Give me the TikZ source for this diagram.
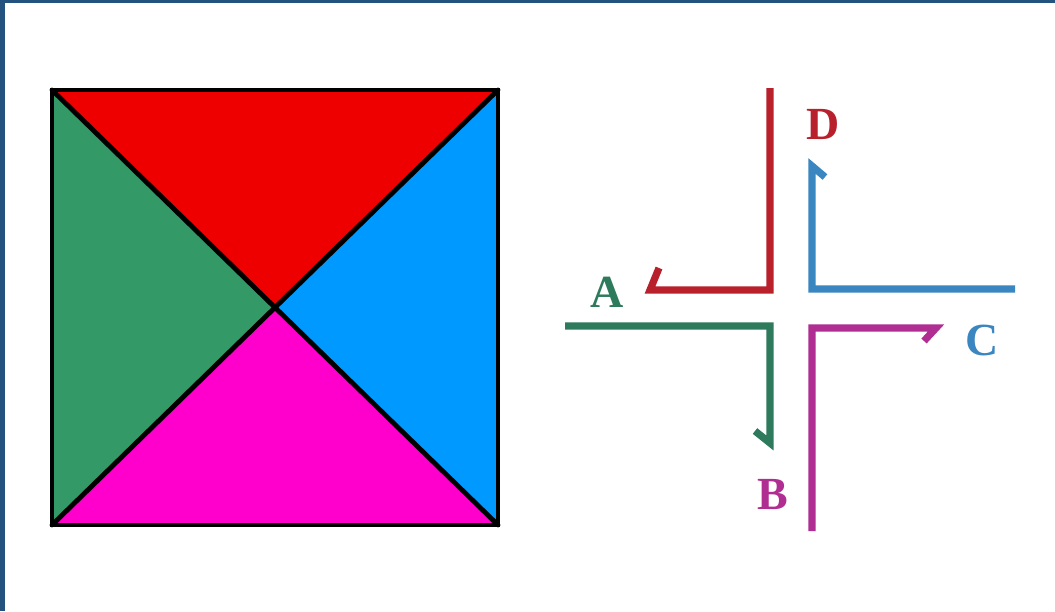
\documentclass[tikz,border=0pt]{standalone}
\usepackage{fontspec}
\setmainfont{Liberation Serif}
\usepackage{xcolor}
\usepackage{tikz}
\definecolor{frameblue}{HTML}{24527E}
\definecolor{sqred}{HTML}{EE0000}
\definecolor{sqgreen}{HTML}{339966}
\definecolor{sqblue}{HTML}{0099FF}
\definecolor{sqmagenta}{HTML}{FF00CC}
\definecolor{arrred}{HTML}{B8202C}
\definecolor{arrblue}{HTML}{3A86C0}
\definecolor{arrgreen}{HTML}{2E7A5C}
\definecolor{arrmagenta}{HTML}{B02E92}
\tikzset{
  edgeline/.style={line width=2.4pt,black,line cap=round,line join=round},
  turnarrow/.style={line width=3.6pt,line join=miter},
  letternode/.style={inner sep=0pt,font=\fontsize{23}{25}\selectfont\bfseries}
}

\begin{document}
\begin{tikzpicture}[x=0.5pt,y=-0.5pt]
  \useasboundingbox (0,0) rectangle (1055,611);
  \fill[frameblue] (0,0) rectangle (1055,611);
  \fill[white] (5,3) rectangle (1055,611);

  % the square
  \coordinate (tl) at (52,90);
  \coordinate (tr) at (498,90);
  \coordinate (bl) at (52,525);
  \coordinate (br) at (498,525);
  \coordinate (mid) at (275,307.5);
  \fill[sqred] (tl)--(tr)--(mid)--cycle;
  \fill[sqgreen] (tl)--(mid)--(bl)--cycle;
  \fill[sqblue] (tr)--(br)--(mid)--cycle;
  \fill[sqmagenta] (bl)--(mid)--(br)--cycle;
  \draw[edgeline] (tl)--(br) (tr)--(bl);
  \draw[edgeline,line join=miter] (tl) rectangle (br);

  % the four turning arrows
  \coordinate (dstart) at (770,88);
  \coordinate (dturn) at (770,290);
  \coordinate (dend) at (650,290);
  \coordinate (dhook) at (659,268);
  \draw[turnarrow,arrred] (dstart)--(dturn)--(dend)--(dhook);

  \coordinate (cstart) at (1015,289);
  \coordinate (cturn) at (812,289);
  \coordinate (cend) at (812,166);
  \coordinate (chook) at (825,177);
  \draw[turnarrow,arrblue] (cstart)--(cturn)--(cend)--(chook);

  \coordinate (astart) at (565,326);
  \coordinate (aturn) at (770,326);
  \coordinate (aend) at (770,443);
  \coordinate (ahook) at (755,431);
  \draw[turnarrow,arrgreen] (astart)--(aturn)--(aend)--(ahook);

  \coordinate (bstart) at (812,531);
  \coordinate (bturn) at (812,328);
  \coordinate (bend) at (936,328);
  \coordinate (bhook) at (924,341);
  \draw[turnarrow,arrmagenta] (bstart)--(bturn)--(bend)--(bhook);

  \node[letternode,text=arrred] (dlabel) at (823,124) {D};
  \node[letternode,text=arrgreen] (alabel) at (607,292) {A};
  \node[letternode,text=arrblue] (clabel) at (982,340) {C};
  \node[letternode,text=arrmagenta] (blabel) at (773,494) {B};
\end{tikzpicture}
\end{document}
